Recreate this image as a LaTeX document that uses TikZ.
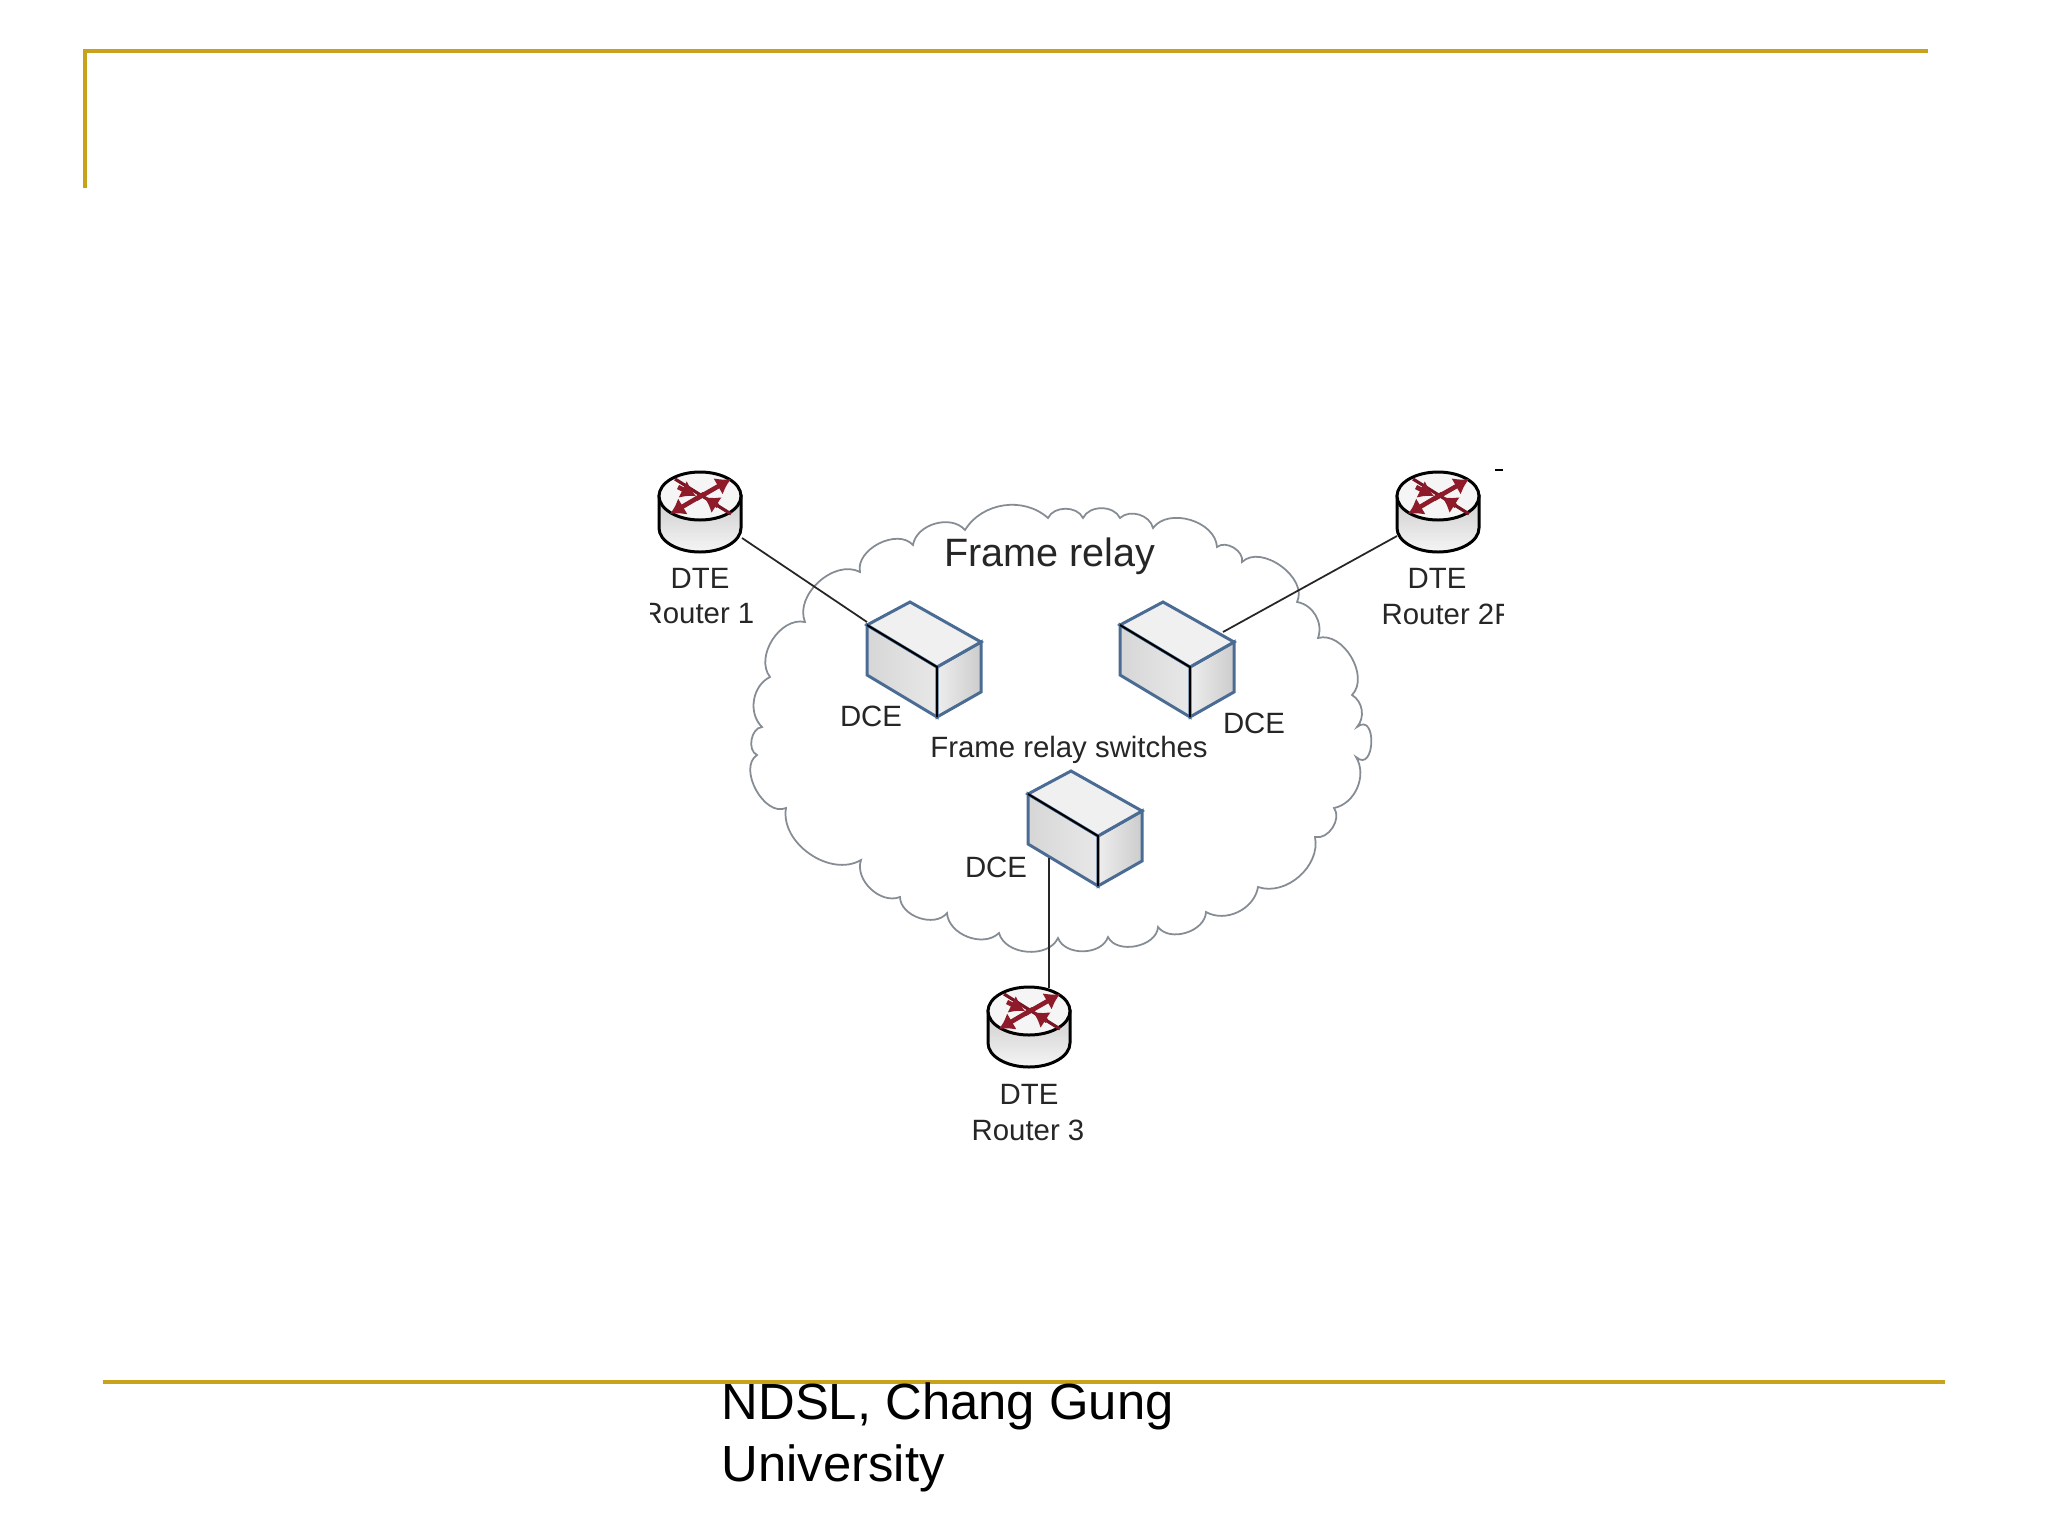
\documentclass[tikz,border=0pt]{standalone}
\usepackage{fontspec}
\setmainfont{Liberation Sans}
\usetikzlibrary{calc,arrows.meta}
\definecolor{gold}{HTML}{C9A21B}
\definecolor{cloudline}{HTML}{858C94}
\definecolor{boxblue}{HTML}{4A6C94}
\definecolor{rred}{HTML}{8E1A2A}
\tikzset{
  px/.style={x=0.01cm,y=-0.01cm},
  goldline/.style={draw=gold,line width=1.15pt},
  cloudpath/.style={draw=cloudline,line width=0.5pt,fill=white},
  wire/.style={draw=black!85,line width=0.5pt},
  lab/.style={inner sep=0pt,font=\fontsize{8.35pt}{9pt}\selectfont,text=black!85},
  rarrow/.style={rred,line width=1.3pt,-{Latex[length=4.2pt,width=5.4pt]}},
  pics/routerpic/.style={code={
    \path[draw=black,line width=0.85pt,top color=black!20,bottom color=black!4]
      (-41,0) -- (-41,32) arc[x radius=41,y radius=24,start angle=180,end angle=0] -- (41,0) -- cycle;
    \path[draw=black,line width=0.85pt,fill=black!4] (0,0) ellipse[x radius=41,y radius=24];
    \draw[rred!85!black,line width=0.9pt] (-25,-17) -- (31,18);
    \draw[rarrow] (-4,3) -- (31,-17);
    \draw[rarrow] (4,-2) -- (-30,18);
    \draw[rarrow] (-22,-9) -- (-4,0);
    \draw[rarrow] (18,10) -- (4,1);
  }},
  pics/boxpic/.style={code={
    \path[draw=boxblue,line width=0.85pt,left color=black!16,right color=black!9]
      (0,0) -- (70,42) -- (70,92) -- (0,50) -- cycle;
    \path[draw=boxblue,line width=0.85pt,left color=black!7,right color=black!20]
      (70,42) -- (114,17) -- (114,67) -- (70,92) -- cycle;
    \path[draw=boxblue,line width=0.85pt,fill=black!6] (0,0) -- (43,-23) -- (114,17) -- (70,42) -- cycle;
    \draw[black,line width=0.55pt] (0,0) -- (70,42) -- (70,92);
  }}
}
\begin{document}
\begin{tikzpicture}[px]
\useasboundingbox (0,0) rectangle (2048,1536);
\fill[white] (0,0) rectangle (2048,1536);
\draw[goldline] (85,188) -- (85,51) -- (1928,51);
\draw[goldline] (103,1382) -- (1945,1382);

\begin{scope}
\clip (650,450) rectangle (1503,1300);
% cloud
\path[cloudpath] (757,755)
  to[bend left=75] (762,727) to[bend left=55] (770,677) to[bend left=70] (805,622)
  to[bend left=70] (860,572) to[bend left=75] (913,545) to[bend left=65] (965,530)
  to[bend left=50] (1048,518) to[bend left=65] (1083,518) to[bend left=65] (1120,518)
  to[bend left=60] (1153,528) to[bend left=70] (1217,547) to[bend left=70] (1242,562)
  to[bend left=80] (1297,602) to[bend left=50] (1318,638) to[bend left=75] (1352,695)
  to[bend left=50] (1357,727) to[bend left=130,looseness=2.2] (1356,757) to[bend left=55] (1334,808)
  to[bend left=70] (1315,837) to[bend left=60] (1258,887) to[bend left=55] (1206,912)
  to[bend left=70] (1158,927) to[bend left=75] (1108,937) to[bend left=70] (1058,938)
  to[bend left=70] (999,933) to[bend left=65] (947,913) to[bend left=70] (900,897)
  to[bend left=65] (861,860) to[bend left=65] (786,808) to[bend left=85] cycle;

\pic at (700,496) {routerpic};
\pic at (1438,496) {routerpic};
\pic at (1029,1011) {routerpic};
\pic at (867,625) {boxpic};
\pic at (1120,625) {boxpic};
\pic at (1028,794) {boxpic};

\coordinate (r1) at (742,538);
\coordinate (r2) at (1397,536);
\coordinate (r3) at (1049,988);
\coordinate (b1) at (867,622);
\coordinate (b2) at (1223,632);
\coordinate (b3) at (1049,858);
\draw[wire] (r1) -- (b1);
\draw[wire] (r2) -- (b2);
\draw[wire] (r3) -- (b3);

\node[lab,font=\fontsize{11.25pt}{12pt}\selectfont] (title) at (1050,556) {Frame relay};
\node[lab] (dte1) at (700,578) {DTE};
\node[lab] (rt1) at (698,614) {Router 1};
\node[lab] (dte2) at (1437,578) {DTE};
\node[lab,anchor=west] (rt2) at (1381,614) {Router 2F};
\node[lab] (dte3) at (1029,1094) {DTE};
\node[lab] (rt3) at (1028,1130) {Router 3};
\node[lab] (dce1) at (871,716) {DCE};
\node[lab] (dce2) at (1254,723) {DCE};
\node[lab] (dce3) at (996,867) {DCE};
\node[lab] (sw) at (1069,750) {Frame relay switches};
\coordinate (d1) at (1495,470);
\coordinate (d2) at (1503,470);
\draw[black,line width=0.4pt] (d1) -- (d2);
\end{scope}

\node[inner sep=0pt,anchor=north west,align=left,text=black,font=\fontsize{14.45pt}{17.6pt}\selectfont] (foot) at (721,1382) {NDSL, Chang Gung\\University};
\end{tikzpicture}
\end{document}
